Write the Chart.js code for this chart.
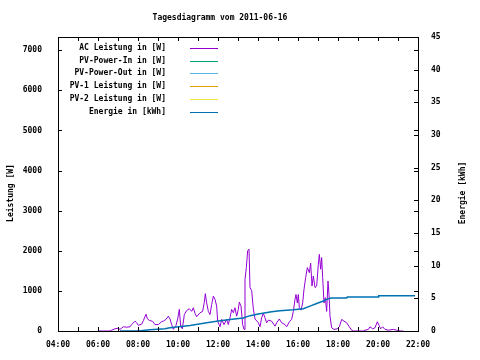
<!DOCTYPE html>
<html>
<head>
<meta charset="utf-8">
<script src="https://cdn.jsdelivr.net/npm/chart.js@4"></script>
<style>
  html, body { margin: 0; padding: 0; background: #fff; }
</style>
</head>
<body>
<canvas id="myChart" width="480" height="360"></canvas>
<script>
const chartTitle = "Tagesdiagramm vom 2011-06-16";
const leftTitle = "Leistung [W]";
const rightTitle = "Energie [kWh]";

const seriesNames = [
  "AC Leistung in [W]",
  "PV-Power-In in [W]",
  "PV-Power-Out in [W]",
  "PV-1 Leistung in [W]",
  "PV-2 Leistung in [W]",
  "Energie in [kWh]",
];

const wattTicks = [0, 1000, 2000, 3000, 4000, 5000, 6000, 7000];

// AC power
const acTimes = [
  "06:00", "06:36", "06:41", "06:51", "07:00", "07:06", "07:16", "07:26", "07:36", "07:41",
  "07:51", "07:56", "08:01", "08:11", "08:16", "08:24", "08:28", "08:34", "08:44", "08:51",
  "09:01", "09:11", "09:16", "09:24", "09:31", "09:36", "09:41", "09:46", "09:54", "09:59",
  "10:04", "10:08", "10:13", "10:19", "10:26", "10:34", "10:41", "10:46", "10:51", "10:56",
  "11:06", "11:14", "11:19", "11:22", "11:26", "11:31", "11:36", "11:41", "11:46", "11:51",
  "11:56", "11:59", "12:06", "12:11", "12:18", "12:26", "12:31", "12:36", "12:41", "12:46",
  "12:51", "12:56", "13:01", "13:04", "13:09", "13:14", "13:18", "13:21", "13:25", "13:29",
  "13:33", "13:36", "13:41", "13:46", "13:51", "14:01", "14:06", "14:11", "14:16", "14:21",
  "14:26", "14:31", "14:41", "14:51", "14:56", "15:04", "15:11", "15:21", "15:26", "15:34",
  "15:41", "15:46", "15:51", "15:54", "15:58", "16:01", "16:04", "16:09", "16:14", "16:18",
  "16:23", "16:28", "16:34", "16:38", "16:42", "16:46", "16:51", "16:56", "17:01", "17:04",
  "17:08", "17:11", "17:14", "17:18", "17:22", "17:26", "17:30", "17:33", "17:36", "17:41",
  "17:48", "17:58", "18:04", "18:11", "18:18", "18:26", "18:34", "18:41", "18:46", "19:16",
  "19:21", "19:31", "19:36", "19:44", "19:51", "19:58", "20:03", "20:08", "20:14", "20:21",
  "20:31", "20:46", "20:56", "21:06", "21:16",
];
const acWatts = [
  0, 0, 20, 55, 70, 40, 105, 95, 105, 160,
  245, 205, 140, 170, 255, 420, 305, 265, 240, 160,
  160, 235, 245, 290, 370, 300, 160, 40, 140, 300,
  540, 120, 55, 410, 510, 555, 490, 580, 440, 355,
  455, 490, 720, 930, 700, 490, 410, 660, 870, 790,
  620, 245, 105, 290, 160, 290, 160, 330, 540, 455,
  580, 370, 540, 720, 620, 160, 40, 1290, 1580, 2000,
  2040, 1080, 1010, 550, 300, 205, 105, 330, 440, 330,
  205, 270, 245, 120, 205, 300, 205, 160, 105, 230,
  290, 490, 790, 910, 700, 910, 580, 520, 700, 1040,
  1330, 1580, 1455, 1690, 1120, 1370, 1080, 1120, 1665, 1910,
  1540, 1830, 1330, 700, 830, 490, 1245, 910, 370, 80,
  40, 55, 105, 290, 245, 205, 105, 20, 0, 0,
  20, 40, 105, 55, 80, 230, 140, 55, 105, 40,
  20, 40, 20, 0, 0,
];

// daily energy
const energyTimes = [
  "07:06", "08:00", "08:36", "09:21", "09:36", "10:36", "11:26", "11:56", "12:36", "13:16",
  "13:36", "14:01", "14:41", "15:06", "15:46", "16:16", "16:36", "16:56", "17:16", "17:31",
  "17:40", "18:26", "18:28", "20:00", "20:02", "21:51",
];
const energyKwh = [
  0, 0, 0.2, 0.35, 0.5, 0.85, 1.25, 1.5, 1.75, 2.0,
  2.35, 2.6, 2.95, 3.1, 3.25, 3.4, 3.8, 4.2, 4.6, 4.95,
  5.05, 5.05, 5.2, 5.2, 5.4, 5.4,
];

const colors = ["#9400d3", "#009e73", "#56b4e9", "#e69f00", "#f0e442", "#0072b2"];
const FONT = 'bold 8px "DejaVu Sans Mono"';

function toHours(t) {
  const [h, m] = t.split(":").map(Number);
  return h + m / 60;
}
function pts(times, vals) {
  return times.map((t, i) => ({ x: toHours(t), y: vals[i] }));
}

const datasets = seriesNames.map((name, i) => ({
  label: name,
  data: [],
  borderColor: colors[i],
  backgroundColor: colors[i],
  borderWidth: 1,
  pointRadius: 0,
  tension: 0,
  fill: false,
  yAxisID: "y",
}));
datasets[0].data = pts(acTimes, acWatts);
datasets[5].data = pts(energyTimes, energyKwh);
datasets[5].yAxisID = "y2";
datasets[5].borderWidth = 1.5;
datasets[5].order = -1;

// border box, inward ticks, titles and legend like gnuplot
const gnuplotLook = {
  id: "gnuplotLook",
  afterDraw(chart) {
    const ctx = chart.ctx;
    const a = chart.chartArea;
    const xs = chart.scales.x, ys = chart.scales.y, y2s = chart.scales.y2;
    ctx.save();
    ctx.strokeStyle = "#000";
    ctx.lineWidth = 1;
    ctx.beginPath();
    xs.ticks.forEach(t => {
      const p = Math.round(xs.getPixelForValue(t.value)) + 0.5;
      ctx.moveTo(p, a.bottom); ctx.lineTo(p, a.bottom - 4);
      ctx.moveTo(p, a.top); ctx.lineTo(p, a.top + 4);
    });
    ys.ticks.forEach(t => {
      const p = Math.round(ys.getPixelForValue(t.value)) + 0.5;
      ctx.moveTo(a.left, p); ctx.lineTo(a.left + 4, p);
      ctx.moveTo(a.right, p); ctx.lineTo(a.right - 4, p);
    });
    y2s.ticks.forEach(t => {
      const p = Math.round(y2s.getPixelForValue(t.value)) + 0.5;
      ctx.moveTo(a.right, p); ctx.lineTo(a.right - 4, p);
    });
    ctx.stroke();
    ctx.strokeRect(Math.round(a.left) + 0.5, Math.round(a.top) + 0.5,
      Math.round(a.right - a.left), Math.round(a.bottom - a.top));

    ctx.fillStyle = "#000";
    ctx.font = FONT;
    ctx.textBaseline = "middle";
    ctx.textAlign = "center";
    ctx.fillText(chartTitle, 220, 18);

    ctx.save();
    ctx.translate(10.5, 193);
    ctx.rotate(-Math.PI / 2);
    ctx.fillText(leftTitle, 0, 0);
    ctx.restore();
    ctx.save();
    ctx.translate(463, 193);
    ctx.rotate(-Math.PI / 2);
    ctx.fillText(rightTitle, 0, 0);
    ctx.restore();

    ctx.textAlign = "right";
    chart.data.datasets.forEach((ds, i) => {
      const y = 48 + i * 12.7;
      ctx.fillStyle = "#000";
      ctx.fillText(ds.label, 166, y);
      ctx.strokeStyle = ds.borderColor;
      ctx.beginPath();
      ctx.moveTo(190, Math.round(y) + 0.5);
      ctx.lineTo(218, Math.round(y) + 0.5);
      ctx.stroke();
    });
    ctx.restore();
  },
};

const tickFont = { family: "DejaVu Sans Mono", size: 8, weight: "bold" };
const ctx = document.getElementById("myChart").getContext("2d");
const myChart = new Chart(ctx, {
  type: "line",
  data: { datasets: datasets },
  options: {
    responsive: false,
    animation: false,
    events: [],
    layout: { padding: { top: 37, left: 0, right: 0, bottom: 0 } },
    plugins: { legend: { display: false }, title: { display: false }, tooltip: { enabled: false } },
    scales: {
      x: {
        type: "linear",
        min: 4,
        max: 22,
        grid: { display: false },
        border: { display: false },
        afterFit(s) { s.height = 29; },
        ticks: {
          stepSize: 1,
          autoSkip: false,
          maxRotation: 0,
          padding: 1,
          color: "#000",
          font: tickFont,
          callback: v => (v % 2 === 0 ? String(v).padStart(2, "0") + ":00" : ""),
        },
      },
      y: {
        position: "left",
        min: 0,
        max: 7330,
        grid: { display: false },
        border: { display: false },
        afterFit(s) { s.width = 58; },
        afterBuildTicks(s) { s.ticks = wattTicks.map(v => ({ value: v })); },
        ticks: {
          autoSkip: false,
          padding: 8,
          color: "#000",
          font: tickFont,
          callback: v => String(v),
        },
      },
      y2: {
        position: "right",
        min: 0,
        max: 45,
        grid: { display: false },
        border: { display: false },
        afterFit(s) { s.width = 62; },
        ticks: { stepSize: 5, autoSkip: false, padding: 5, color: "#000", font: tickFont },
      },
    },
  },
  plugins: [gnuplotLook],
});
</script>
</body>
</html>
